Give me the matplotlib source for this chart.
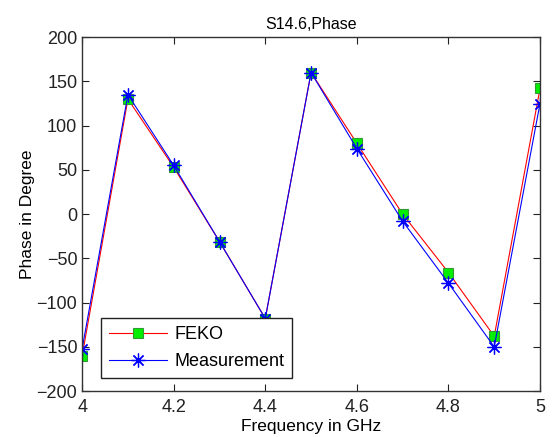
import matplotlib
matplotlib.use("Agg")
import matplotlib.pyplot as plt

plt.rcParams['font.family'] = ['Liberation Sans', 'DejaVu Sans']

freq = [4.0, 4.1, 4.2, 4.3, 4.4, 4.5, 4.6, 4.7, 4.8, 4.9, 5.0]
feko = [-160, 130, 53, -31, -118, 160, 80, 0, -66, -138, 142]
meas = [-152, 135, 55, -31, -118, 160, 74, -8, -78, -150, 125]

fig = plt.figure(figsize=(5.55, 4.37), dpi=100)
ax = fig.add_axes([0.148, 0.105, 0.825, 0.81])

ax.plot(freq, feko, color='red', lw=0.8, marker='s', ms=7,
        mfc='#00ee00', mec='#339933', mew=0.8, label='FEKO')
ax.plot(freq, meas, color='blue', lw=0.8, marker=(8, 2, 0), ms=10,
        mfc='blue', mec='blue', mew=0.9, label='Measurement')

ax.set_xlim(4, 5)
ax.set_ylim(-200, 200)
ax.set_xticks([4, 4.2, 4.4, 4.6, 4.8, 5])
ax.set_xticklabels(['4', '4.2', '4.4', '4.6', '4.8', '5'])
ax.set_yticks(range(-200, 201, 50))
ax.tick_params(direction='in', top=True, right=True, labelsize=13,
               length=5, colors='#222222', labelcolor='#222222')
ax.tick_params(axis='x', pad=6)
for s in ax.spines.values():
    s.set_linewidth(1.0)
    s.set_color('#333333')

ax.set_title('S14.6,Phase', fontsize=11.5, pad=6)
ax.set_xlabel('Frequency in GHz', fontsize=12.5, labelpad=2)
ax.set_ylabel('Phase in Degree', fontsize=12.5, labelpad=1)

leg = ax.legend(loc='lower left', bbox_to_anchor=(0.041, 0.037),
                borderaxespad=0, fontsize=13, fancybox=False, framealpha=1,
                edgecolor='#222222', handlelength=3.2, labelspacing=0.55,
                borderpad=0.45, handletextpad=0.4)
leg.get_frame().set_linewidth(1.0)

fig.savefig('out.png', dpi=100)
